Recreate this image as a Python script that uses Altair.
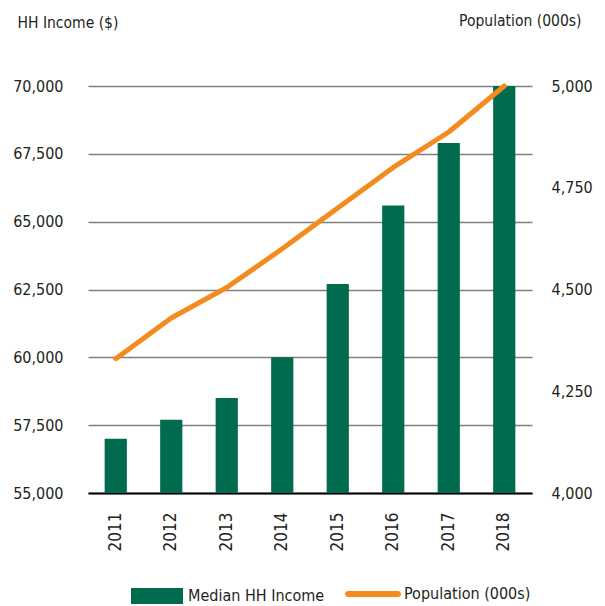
import altair as alt
import pandas as pd

years = ["2011", "2012", "2013", "2014", "2015", "2016", "2017", "2018"]
income = [57000, 57700, 58500, 60000, 62700, 65600, 67900, 70000]
population = [4330, 4430, 4505, 4600, 4700, 4800, 4887, 5000]
income_ticks = [55000, 57500, 60000, 62500, 65000, 67500, 70000]
pop_ticks = [4000, 4250, 4500, 4750, 5000]
bar_label = "Median HH Income"
line_label = "Population (000s)"

GREEN = "#006B4E"
ORANGE = "#F58A1F"
TEXT = "#231F20"
FONT = "DejaVu Sans Condensed, Liberation Sans Narrow, sans-serif"

df = pd.DataFrame({
    "year": years,
    "income": income,
    "population": population,
    "bar_series": [bar_label] * len(years),
    "line_series": [line_label] * len(years),
})

x_enc = alt.X(
    "year:N", sort=years,
    scale=alt.Scale(paddingInner=0.6, paddingOuter=0.3),
    axis=alt.Axis(title=None, labelAngle=270, labelFontSize=17, labelPadding=19,
                  ticks=False, domainColor="black", domainWidth=2.2,
                  labelFont=FONT, labelColor=TEXT),
)

bars = alt.Chart(df).mark_bar(clip=True).encode(
    x=x_enc,
    y=alt.Y("income:Q",
            scale=alt.Scale(domain=[55000, 70000], nice=False, zero=False),
            axis=alt.Axis(values=income_ticks, format=",.0f", title="HH Income ($)",
                          orient="left", domain=False, ticks=False,
                          labelPadding=25, labelFontSize=16, labelFont=FONT, labelColor=TEXT,
                          gridColor="#7F7F7F", gridWidth=1.6,
                          titleAngle=0, titleAlign="left", titleBaseline="alphabetic",
                          titleX=-71, titleY=-59, titleFontSize=15.5, titleFontWeight="normal",
                          titleFont=FONT, titleColor=TEXT)),
    fill=alt.Fill("bar_series:N",
                  scale=alt.Scale(domain=[bar_label], range=[GREEN]),
                  legend=alt.Legend(title=None, orient="none", legendX=43, legendY=484,
                                    symbolType="M-1,-0.3077H1V0.3077H-1Z", symbolSize=2704,
                                    symbolStrokeWidth=0,
                                    labelFontSize=16, labelFont=FONT, labelColor=TEXT,
                                    labelOffset=5, padding=0)),
)

line = alt.Chart(df).mark_line(strokeWidth=5, strokeCap="round", strokeJoin="round").encode(
    x=x_enc,
    y=alt.Y("population:Q",
            scale=alt.Scale(domain=[4000, 5000], nice=False, zero=False),
            axis=alt.Axis(values=pop_ticks, format=",.0f", title="Population (000s)",
                          orient="right", domain=False, ticks=False, grid=False,
                          labelPadding=19, labelFontSize=16, labelFont=FONT, labelColor=TEXT,
                          titleAngle=0, titleAlign="right", titleBaseline="alphabetic",
                          titleX=49, titleY=-61, titleFontSize=15.5, titleFontWeight="normal",
                          titleFont=FONT, titleColor=TEXT)),
    stroke=alt.Stroke("line_series:N",
                      scale=alt.Scale(domain=[line_label], range=[ORANGE]),
                      legend=alt.Legend(title=None, orient="none", legendX=257, legendY=480,
                                        symbolType="M-0.893,-0.107H0.893A0.107,0.107 0 0 1 0.893,0.107H-0.893A0.107,0.107 0 0 1 -0.893,-0.107Z",
                                        symbolSize=3136, symbolFillColor=ORANGE,
                                        symbolStrokeWidth=0,
                                        labelFontSize=16, labelFont=FONT, labelColor=TEXT,
                                        labelOffset=3, padding=0)),
)

chart = alt.layer(bars, line).resolve_scale(y="independent").properties(
    width=444, height=407,
    autosize=alt.AutoSizeParams(type="none"),
    padding={"left": 88, "top": 86, "right": 73, "bottom": 113},
    background="white",
).configure_view(strokeOpacity=0)

chart.save("out.html", embed_options={"renderer": "svg", "actions": False})
